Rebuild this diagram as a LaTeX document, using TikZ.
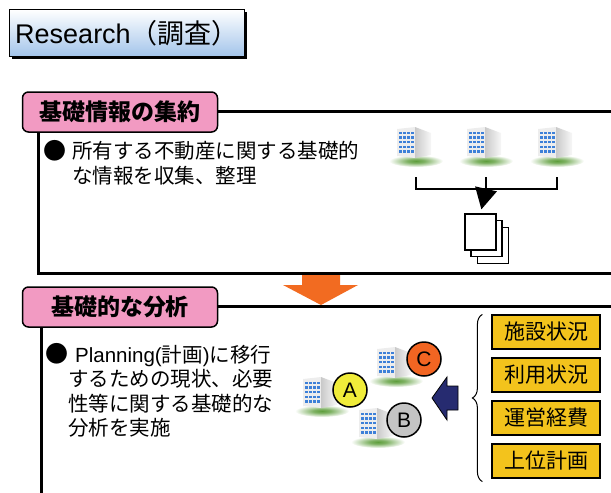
\documentclass[tikz,border=0pt]{standalone}
\usepackage{fontspec}
\setmainfont{Noto Sans CJK JP}
\newfontfamily\lsans{Liberation Sans}
\usetikzlibrary{arrows.meta, shadows, decorations.pathreplacing}
\definecolor{tabpink}{HTML}{F29AC2}
\definecolor{skyblue}{HTML}{A2C4EA}
\definecolor{gold}{HTML}{F3C31C}
\definecolor{orng}{HTML}{F26B21}
\definecolor{navy}{HTML}{262B70}
\definecolor{tagyellow}{HTML}{F0EC3A}
\definecolor{taggray}{HTML}{C4C4C4}
\definecolor{tagorange}{HTML}{F26522}
\definecolor{grass}{HTML}{5E9E3C}
\definecolor{winblue}{HTML}{3D80D8}

\pgfdeclareradialshading{lawn}{\pgfpoint{0bp}{0bp}}{color(0bp)=(grass); color(8bp)=(grass!80); color(25bp)=(white); color(50bp)=(white)}

% small office block standing on a patch of lawn
\tikzset{
  bldg/.pic={
    \shade[shading=lawn] (0,0) ellipse (27 and 6);
    \fill[gray!14] (-19,-32) -- (-1,-34) -- (-1,-3) -- (-19,-5) -- cycle;
    \shade[left color=gray!42, right color=gray!6]
      (-1,-34) -- (15,-28) -- (15,-6) -- (-1,-3) -- cycle;
    \foreach \i in {0,...,3}
      \foreach \j in {0,...,4}
        \fill[winblue] (-17+\i*3.9,-29.5+\j*4.7) rectangle ++(2.8,2.4);
    \coordinate (-base) at (0,16);
  }
}

\begin{document}
\begin{tikzpicture}[x=1pt, y=-1pt,
  >={Triangle[length=21pt, width=22pt]},
  secline/.style={line width=3pt, black},
  tab/.style={draw, line width=1.5pt, fill=tabpink, rounded corners=6pt,
    minimum width=195pt, minimum height=40pt,
    font=\fontsize{23}{23}\selectfont\bfseries},
  body/.style={font=\fontsize{20.5}{24.5}\selectfont, align=left,
    inner sep=0pt, anchor=north west},
  bullet/.style={font=\fontsize{23}{23}\selectfont, inner sep=0pt},
  conn/.style={line width=1.5pt},
  sheet/.style={draw, line width=1.5pt, fill=white, minimum width=31pt,
    minimum height=36pt, inner sep=0pt},
  tag/.style={circle, draw, line width=1.5pt, fill=#1, minimum size=34pt,
    inner sep=0pt, font=\lsans\fontsize{21}{21}\selectfont},
  infobox/.style={draw, line width=1.2pt, fill=gold, minimum width=108pt,
    minimum height=34pt, inner sep=0pt, font=\fontsize{21}{21}\selectfont},
]
\useasboundingbox (0,0) rectangle (611,493);

% ---- Title ----
\node[draw, line width=1.5pt, top color=white, bottom color=skyblue,
  minimum width=235pt, minimum height=47pt,
  drop shadow={shadow xshift=2pt, shadow yshift=-2pt, fill=black, opacity=1},
  font=\fontsize{27}{27}\selectfont] (title) at (127,33)
  {{\lsans Research}（調査）};

% ---- Arrow between the two sections ----
\fill[orng] (302,274) -- (340,274) -- (340,285) -- (358,285) -- (321,305)
  -- (283,285) -- (302,285) -- cycle;

% ---- Section frames ----
\draw[secline] (615,111) -| (38,273) -- (615,273);
\draw[secline] (615,306) -| (41,500);

\node[tab] (tab1) at (120,112) {基礎情報の集約};
\node[tab] (tab2) at (120,307) {基礎的な分析};

% ---- Section 1 ----
\node[bullet] (dot1) at (55,151) {●};
\node[body] (txt1) at (72,141)
  {所有する不動産に関する基礎的\\な情報を収集、整理};

\pic (bl1) at (416,161) {bldg};
\pic (bl2) at (486,161) {bldg};
\pic (bl3) at (557,161) {bldg};

\node[sheet] (p3) at (493,245.5) {};
\node[sheet] (p2) at (486.5,238.5) {};
\node[sheet] (docs) at (480.5,232) {};

\coordinate (join) at (bl2-base |- 0,189);
\draw[conn] (bl1-base) |- (join) -| (bl3-base);
\draw[conn] (bl2-base) -- (join);
\draw[conn, ->, shorten >=4pt] (join) -- (docs.north);

% ---- Section 2 ----
\node[bullet] (dot2) at (57,354) {●};
\node[body] (txt2) at (68,345)
  {\hspace*{7pt}{\lsans Planning(}計画{\lsans )}に移行\\するための現状、必要\\
   性等に関する基礎的な\\分析を実施};

\pic (blc) at (396,381) {bldg};
\node[tag=tagorange] (cc) at (424,359) {C};
\pic (bla) at (322,411) {bldg};
\node[tag=tagyellow] (ca) at (350,390) {A};
\pic (blb) at (378,442) {bldg};
\node[tag=taggray] (cb) at (404,420) {B};

\filldraw[fill=navy, draw=black, line width=0.8pt] (432,398) -- (447,377)
  -- (447,386) -- (458,386) -- (458,410) -- (447,410) -- (447,420) -- cycle;

\node[infobox] (box1) at (546,332) {施設状況};
\node[infobox] (box2) at (546,375) {利用状況};
\node[infobox] (box3) at (546,418) {運営経費};
\node[infobox] (box4) at (546,461) {上位計画};

\draw[line width=1pt, decorate, decoration={brace, amplitude=10pt}]
  ([shift={(-9pt,-3pt)}]box4.south west) -- ([shift={(-9pt,0pt)}]box1.north west);

\end{tikzpicture}
\end{document}
